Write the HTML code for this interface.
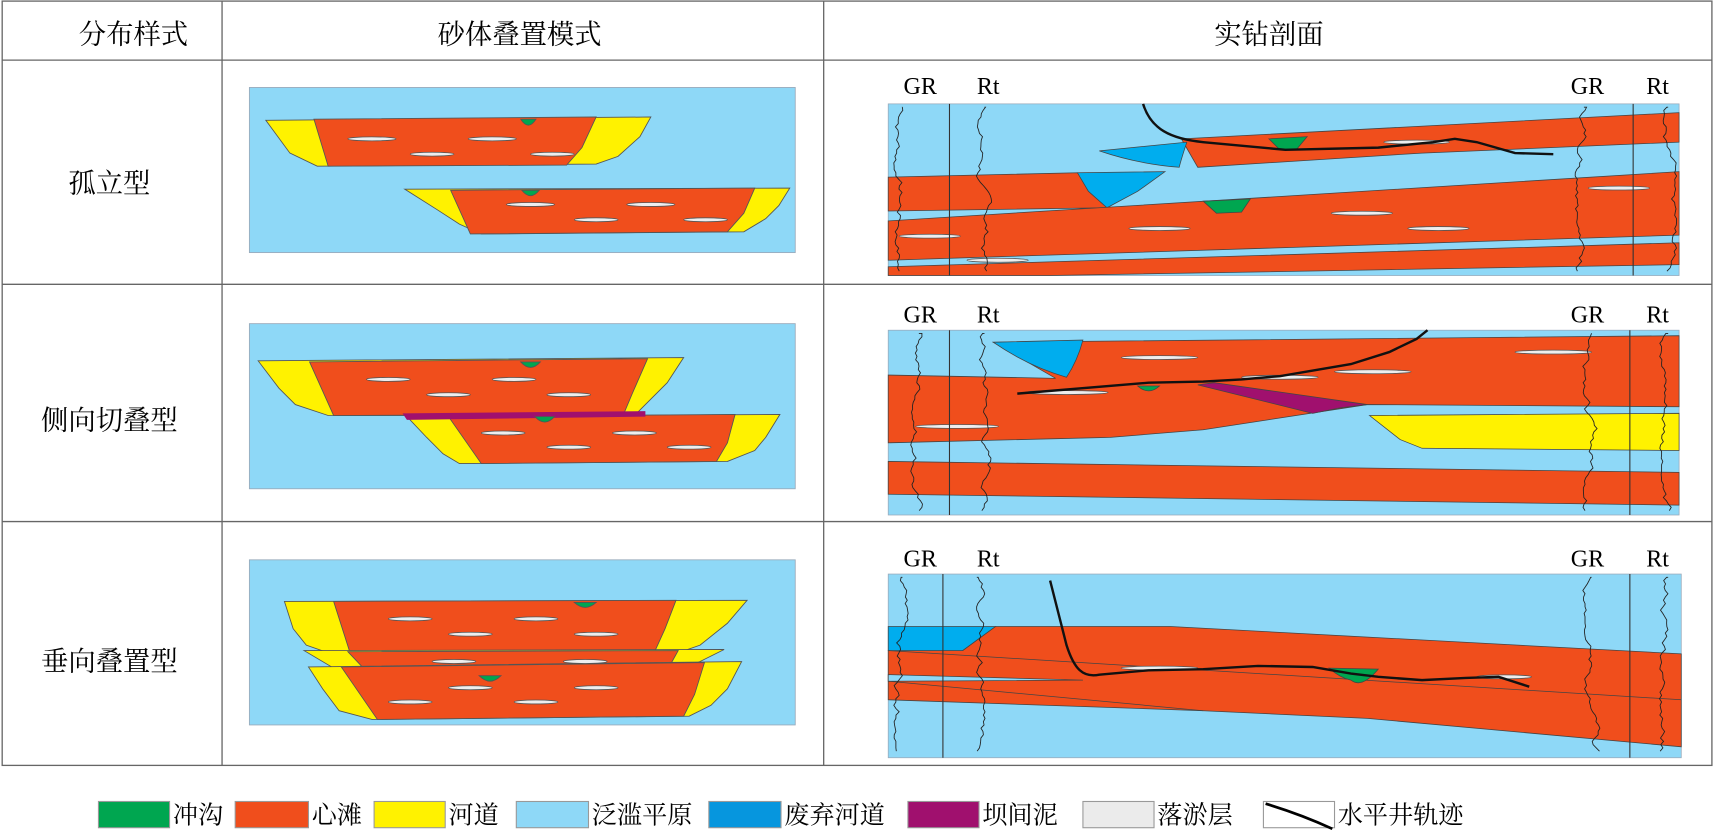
<!DOCTYPE html>
<html><head><meta charset="utf-8"><style>
html,body{margin:0;padding:0;background:#fff;}
svg{display:block;}
text{font-family:"Liberation Serif","Noto Serif CJK SC","Noto Sans CJK SC",serif;fill:#000;}
</style></head><body>
<svg id="s" width="1713" height="831" viewBox="0 0 1566 760" preserveAspectRatio="none" xmlns="http://www.w3.org/2000/svg">
<g stroke="#666" stroke-width="1.2" fill="none">
<rect x="2" y="1" width="1563" height="699"/>
<line x1="2" y1="55" x2="1565" y2="55"/>
<line x1="2" y1="260" x2="1565" y2="260"/>
<line x1="2" y1="477" x2="1565" y2="477"/>
<line x1="203" y1="1" x2="203" y2="700"/>
<line x1="753" y1="1" x2="753" y2="700"/>
</g>
<g font-size="25" text-anchor="middle">
<text x="122" y="40">分布样式</text>
<text x="475" y="40">砂体叠置模式</text>
<text x="1160" y="40">实钻剖面</text>
<text x="100" y="176">孤立型</text>
<text x="100" y="393">侧向切叠型</text>
<text x="100" y="613">垂向叠置型</text>
</g>
<g stroke="#555" stroke-width="0.8">
<!-- row1 left -->
<rect x="228" y="80" width="499" height="151" fill="#8ED8F7" stroke="#9ab"/>
<polygon points="243,110 595,107 585,125 565,143 545,150 290,152 265,140" fill="#FFF200"/>
<polygon points="287,109 545,107 532,135 518,151 300,152" fill="#F04E1C"/>
<path d="M476,109 Q483,120 490,109 Z" fill="#00A650"/>
<polygon points="370,173 722,172 712,188 700,200 680,212 440,214 420,205 400,192" fill="#FFF200"/>
<polygon points="412,174 690,172 680,195 665,212 430,214" fill="#F04E1C"/>
<path d="M477,174 Q485,184 493,174 Z" fill="#00A650"/>
<!-- row2 left -->
<rect x="228" y="296" width="499" height="151" fill="#8ED8F7" stroke="#9ab"/>
<polygon points="236,330 625,327 610,350 590,370 580,380 300,380 270,370 255,355" fill="#FFF200"/>
<polygon points="283,331 592,328 578,360 570,379 305,380" fill="#F04E1C"/>
<path d="M476,331 Q485,341 494,331 Z" fill="#00A650"/>
<polygon points="372,381 713,379 700,400 690,412 665,422 420,424 405,415 390,400" fill="#FFF200"/>
<polygon points="410,381 672,379 665,405 655,422 440,424" fill="#F04E1C"/>
<polygon points="368,378 590,376 590,381 372,384" fill="#A0106E" stroke="none"/>
<path d="M489,381 Q498,391 507,381 Z" fill="#00A650"/>
<!-- row3 left -->
<rect x="228" y="512" width="499" height="151" fill="#8ED8F7" stroke="#9ab"/>
<polygon points="260,550 683,549 665,570 640,590 620,597 300,597 280,590 268,575" fill="#FFF200"/>
<polygon points="305,550 618,549 608,575 598,597 320,597" fill="#F04E1C"/>
<path d="M525,551 Q535,560 545,551 Z" fill="#00A650"/>
<polygon points="278,595 662,594 640,605 622,612 310,614" fill="#FFF200"/>
<polygon points="318,596 620,595 610,613 335,614" fill="#F04E1C"/>
<polygon points="282,610 678,605 665,630 650,645 630,655 340,658 310,650 295,630" fill="#FFF200"/>
<polygon points="312,610 644,606 635,635 625,655 345,658" fill="#F04E1C"/>
<path d="M438,618 Q448,628 458,618 Z" fill="#00A650"/>
</g>
<g fill="#eee" stroke="#555" stroke-width="0.7">
<ellipse cx="340" cy="127" rx="22" ry="1.8"/><ellipse cx="450" cy="127" rx="22" ry="1.8"/>
<ellipse cx="395" cy="141" rx="20" ry="1.8"/><ellipse cx="505" cy="141" rx="20" ry="1.8"/>
<ellipse cx="485" cy="187" rx="22" ry="1.8"/><ellipse cx="595" cy="187" rx="22" ry="1.8"/>
<ellipse cx="545" cy="201" rx="20" ry="1.8"/><ellipse cx="645" cy="201" rx="20" ry="1.8"/>
<ellipse cx="355" cy="347" rx="20" ry="1.8"/><ellipse cx="470" cy="347" rx="20" ry="1.8"/>
<ellipse cx="410" cy="361" rx="20" ry="1.8"/><ellipse cx="520" cy="361" rx="20" ry="1.8"/>
<ellipse cx="460" cy="396" rx="20" ry="1.8"/><ellipse cx="580" cy="396" rx="20" ry="1.8"/>
<ellipse cx="520" cy="409" rx="20" ry="1.8"/><ellipse cx="630" cy="409" rx="20" ry="1.8"/>
<ellipse cx="375" cy="566" rx="20" ry="1.8"/><ellipse cx="490" cy="566" rx="20" ry="1.8"/>
<ellipse cx="430" cy="580" rx="20" ry="1.8"/><ellipse cx="545" cy="580" rx="20" ry="1.8"/>
<ellipse cx="415" cy="605" rx="20" ry="1.8"/><ellipse cx="535" cy="605" rx="20" ry="1.8"/>
<ellipse cx="375" cy="642" rx="20" ry="1.8"/><ellipse cx="490" cy="642" rx="20" ry="1.8"/>
<ellipse cx="430" cy="629" rx="20" ry="1.8"/><ellipse cx="545" cy="629" rx="20" ry="1.8"/>
</g>

<!-- Right panels -->
<g stroke="#444" stroke-width="0.7">
<rect x="812" y="95" width="723" height="157" fill="#8ED8F7" stroke="#9ab"/>
<polygon points="1080,127 1535,103 1535,130 1300,140 1095,153" fill="#F04E1C"/>
<path d="M1005,138 L1085,130 Q1080,145 1078,153 Q1040,150 1005,138 Z" fill="#00ADEE"/>
<polygon points="812,162 985,158 1012,190 812,193" fill="#F04E1C"/>
<polygon points="985,158 1065,157 1040,175 1012,190 995,175" fill="#00ADEE"/>
<polygon points="812,202 1535,157 1535,215 812,238" fill="#F04E1C"/>
<polygon points="812,244 1535,222 1535,242 960,252 812,252" fill="#F04E1C"/>
<path d="M1160,127 L1195,125 L1185,137 L1170,137 Z" fill="#00A650"/>
<path d="M1100,184 L1143,182 L1135,194 L1112,195 Z" fill="#00A650"/>

<rect x="812" y="302" width="723" height="169" fill="#8ED8F7" stroke="#9ab"/>
<polygon points="812,343 965,346 908,313 1535,307 1535,372 1250,370 1100,393 1015,400 812,405" fill="#F04E1C"/>
<path d="M908,313 L990,311 Q985,330 975,345 Q940,335 908,313 Z" fill="#00ADEE"/>
<polygon points="1095,352 1110,350 1250,370 1225,373 1200,378" fill="#A0106E"/>
<polygon points="1252,380 1535,378 1535,412 1300,410 1280,402" fill="#FFF200"/>
<polygon points="812,422 1535,432 1535,462 812,452" fill="#F04E1C"/>
<path d="M1040,353 Q1050,362 1060,353 Z" fill="#00A650"/>

<rect x="812" y="525" width="725" height="168" fill="#8ED8F7" stroke="#9ab"/>
<polygon points="812,595 880,595 910,573 1070,573 1537,598 1537,683 1250,657 1100,650 812,640" fill="#F04E1C"/>
<polygon points="812,573 910,573 880,595 812,595" fill="#00ADEE"/>
<polygon points="812,617 990,622 812,623" fill="#8ED8F7"/>
<polyline points="812,595 1537,640" fill="none"/>
<polyline points="812,623 1100,650" fill="none"/>
<path d="M1215,611 L1260,612 Q1245,630 1235,622 Q1225,620 1215,611 Z" fill="#00A650"/>
</g>
<g fill="#eee" stroke="#555" stroke-width="0.7">
<ellipse cx="1295" cy="130" rx="30" ry="1.8"/>
<ellipse cx="1060" cy="209" rx="28" ry="1.8"/><ellipse cx="1245" cy="195" rx="28" ry="1.8"/>
<ellipse cx="1315" cy="209" rx="28" ry="1.8"/><ellipse cx="1480" cy="172" rx="28" ry="1.8"/>
<ellipse cx="850" cy="216" rx="28" ry="1.8"/><ellipse cx="912" cy="238" rx="28" ry="1.8"/>
<ellipse cx="1060" cy="327" rx="35" ry="1.8"/><ellipse cx="1420" cy="322" rx="35" ry="1.8"/>
<ellipse cx="1170" cy="345" rx="35" ry="1.8"/><ellipse cx="1255" cy="340" rx="35" ry="1.8"/>
<ellipse cx="975" cy="359" rx="38" ry="1.8"/><ellipse cx="875" cy="390" rx="38" ry="1.8"/>
<ellipse cx="1060" cy="611" rx="35" ry="1.8"/><ellipse cx="1375" cy="619" rx="25" ry="1.8"/>
</g>
<g stroke="#111" stroke-width="2.2" fill="none">
<path d="M1045,95 C1052,118 1070,127 1100,130 L1175,137 L1260,135 L1310,130 L1330,127 L1350,130 L1385,140 L1420,141"/>
<path d="M930,360 L1050,350 L1100,349 L1135,347 L1170,344 L1235,333 L1270,322 L1295,310 L1305,302"/>
<path d="M960,531 L975,590 C982,612 990,620 1005,617 L1050,613 L1100,612 L1150,609 L1200,610 L1235,616 L1260,619 L1300,622 L1340,620 L1370,619 L1398,628"/>
</g>
<g stroke="#333" stroke-width="1">
<line x1="868" y1="95" x2="868" y2="252"/><line x1="1493" y1="95" x2="1493" y2="252"/>
<line x1="868" y1="302" x2="868" y2="471"/><line x1="1490" y1="302" x2="1490" y2="471"/>
<line x1="862" y1="525" x2="862" y2="693"/><line x1="1490" y1="525" x2="1490" y2="693"/>
</g>
<g id="logs" stroke="#222" stroke-width="0.8" fill="none"></g>
<g font-size="22">
<text x="826" y="86">GR</text><text x="893" y="86">Rt</text><text x="1436" y="86">GR</text><text x="1505" y="86">Rt</text>
<text x="826" y="295">GR</text><text x="893" y="295">Rt</text><text x="1436" y="295">GR</text><text x="1505" y="295">Rt</text>
<text x="826" y="518">GR</text><text x="893" y="518">Rt</text><text x="1436" y="518">GR</text><text x="1505" y="518">Rt</text>
</g>
<!-- legend -->
<g stroke="#999" stroke-width="1">
<rect x="90" y="733" width="65" height="24" fill="#00A650"/>
<rect x="215" y="733" width="67" height="24" fill="#F04E1C"/>
<rect x="342" y="733" width="65" height="24" fill="#FFF200"/>
<rect x="472" y="733" width="66" height="24" fill="#8ED8F7"/>
<rect x="648" y="733" width="66" height="24" fill="#0696DE"/>
<rect x="830" y="733" width="65" height="24" fill="#A0106E"/>
<rect x="990" y="733" width="65" height="24" fill="#EBEBEB"/>
<rect x="1155" y="733" width="65" height="24" fill="#fff"/>
</g>
<path d="M1157,735 Q1190,745 1218,758" stroke="#000" stroke-width="2.5" fill="none"/>
<g font-size="23" font-family="Liberation Sans, Noto Sans CJK SC, sans-serif">
<text x="158" y="753">冲沟</text><text x="285" y="753">心滩</text><text x="410" y="753">河道</text>
<text x="541" y="753">泛滥平原</text><text x="717" y="753">废弃河道</text><text x="898" y="753">坝间泥</text>
<text x="1058" y="753">落淤层</text><text x="1223" y="753">水平井轨迹</text>
</g>
</svg>
<script>
(function(){
var g=document.getElementById('logs');
var seed=7;function r(){seed=(seed*9301+49297)%233280;return seed/233280;}
var cols=[[825,95,252],[900,95,252],[1448,95,252],[1525,95,252],
[840,302,471],[900,302,471],[1455,302,471],[1525,302,471],
[825,525,693],[893,525,693],[1455,525,693],[1525,525,693]];
cols.forEach(function(c){
 var d='M'+c[0]+','+(c[1]+3);var x=c[0];
 for(var y=c[1]+3;y<c[2]-3;y+=3){x+= (r()-0.5)*6; if(x<c[0]-8)x=c[0]-6; if(x>c[0]+8)x=c[0]+6; d+=' L'+x.toFixed(1)+','+y;}
 var p=document.createElementNS('http://www.w3.org/2000/svg','path');p.setAttribute('d',d);g.appendChild(p);
});
})();
</script>
</body></html>
